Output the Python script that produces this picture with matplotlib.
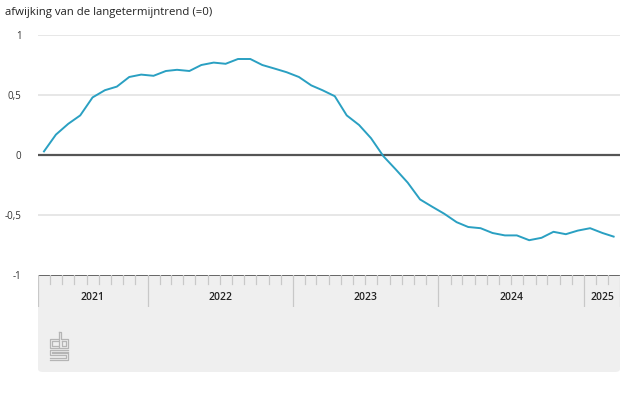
import pandas as pd
import matplotlib
matplotlib.use('Agg')
import matplotlib.pyplot as plt
from matplotlib.patches import FancyBboxPatch
from matplotlib.lines import Line2D

plt.rcParams['font.family'] = ['Open Sans', 'DejaVu Sans']

# maandelijkse afwijking van de langetermijntrend, apr 2021 - mrt 2025
months = pd.date_range('2021-04-01', periods=48, freq='MS')
values = [0.03, 0.17, 0.26, 0.33, 0.48, 0.54, 0.57, 0.65, 0.67,
          0.66, 0.70, 0.71, 0.70, 0.75, 0.77, 0.76, 0.80, 0.80, 0.75, 0.72, 0.69, 0.65,
          0.58, 0.54, 0.49, 0.33, 0.25, 0.14, -0.01, -0.12, -0.23, -0.37, -0.43, -0.49,
          -0.56, -0.60, -0.61, -0.65, -0.67, -0.67, -0.71, -0.69, -0.64, -0.66, -0.63, -0.61,
          -0.65, -0.68]
years = ['2021', '2022', '2023', '2024', '2025']
yticks = [1, 0.5, 0, -0.5, -1]
ytick_labels = ['1', '0,5', '0', '-0,5', '-1']

W, H = 626, 398
x0, x1 = pd.Timestamp('2021-04-01'), pd.Timestamp('2025-04-01')
# datapunten midden in de maand
xs = [m + pd.Timedelta(days=15) for m in months]

fig = plt.figure(figsize=(W / 100, H / 100), dpi=100)
L, R = 38 / W, 620 / W
ax = fig.add_axes([L, 1 - 275 / H, R - L, (275 - 35) / H])
ax.set_xlim(x0, x1)
ax.set_ylim(-1, 1)

for y in [1, 0.5, -0.5]:
    ax.axhline(y, color='#e3e3e3', lw=1.2, zorder=1)
ax.axhline(0, color='#555555', lw=1.6, zorder=2)
ax.plot(xs, values, color='#2aa0c2', lw=1.4, zorder=3)

for s in ax.spines.values():
    s.set_visible(False)
ax.set_xticks([])
ax.set_yticks(yticks)
ax.set_yticklabels(ytick_labels, fontsize=7, color='#333333')
ax.tick_params(axis='y', length=0, pad=12)

fig.text(5 / W, 1 - 12 / H, 'afwijking van de langetermijntrend (=0)',
         fontsize=8.2, color='#222222', va='center', ha='left')

# grijs paneel onder de as
panel = FancyBboxPatch((L, 1 - 372 / H), R - L, (372 - 275) / H,
                       boxstyle='round,pad=0,rounding_size=0.008',
                       transform=fig.transFigure, facecolor='#efefef',
                       edgecolor='none', zorder=0)
fig.add_artist(panel)

axb = fig.add_axes([L, 1 - 307 / H, R - L, (307 - 275) / H])
axb.set_xlim(x0, x1)
axb.set_ylim(0, 1)
axb.axis('off')
axb.axhline(1, color='#666666', lw=1.4)
tick_months = pd.date_range('2021-05-01', '2025-03-01', freq='MS')
for m in tick_months:
    if m.month == 1:
        axb.plot([m, m], [0, 1], color='#c8c8c8', lw=0.9)
    else:
        axb.plot([m, m], [0.72, 1], color='#c8c8c8', lw=0.9)
axb.plot([x0, x0], [0, 1], color='#c8c8c8', lw=0.9)
axb.plot([x1, x1], [0, 1], color='#c8c8c8', lw=0.9)
for yr in years:
    a = max(pd.Timestamp(yr + '-01-01'), x0)
    b = min(pd.Timestamp(str(int(yr) + 1) + '-01-01'), x1)
    axb.text(a + (b - a) / 2, 0.3, yr, ha='center', va='center',
             fontsize=7.5, color='#222222', fontweight='semibold')

# cbs-logo (vereenvoudigd)
def px(x, y):
    return x / W, 1 - y / H

logo = [
    [(58, 339), (50, 339), (50, 348), (58, 348)],
    [(58, 341), (52, 341), (52, 346), (58, 346)],
    [(59, 332), (59, 348), (68, 348), (68, 339), (61, 339), (61, 332), (59, 332)],
    [(62, 341), (66, 341), (66, 346), (62, 346), (62, 341)],
    [(68, 350), (50, 350), (50, 355), (66, 355), (66, 358), (50, 358)],
    [(68, 352), (52, 352), (52, 353), (68, 353), (68, 360), (50, 360)],
]
for seg in logo:
    pts = [px(x, y) for x, y in seg]
    fig.add_artist(Line2D([p[0] for p in pts], [p[1] for p in pts],
                          transform=fig.transFigure, color='#b5b5b5', lw=0.9))

fig.savefig('out.png', dpi=100, facecolor='white')
